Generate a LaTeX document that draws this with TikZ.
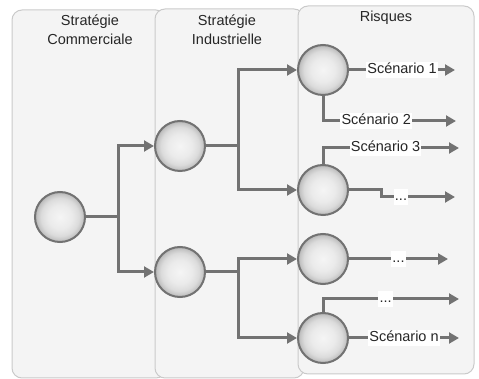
\documentclass[tikz,border=0pt]{standalone}
\usepackage{fontspec}
\setmainfont{Liberation Sans}
\usetikzlibrary{arrows.meta}

\definecolor{panelgray}{HTML}{F4F4F4}
\definecolor{edgegray}{HTML}{CACACA}
\definecolor{linegray}{HTML}{727272}

\pgfdeclareradialshading{balllight}{\pgfpoint{0bp}{0bp}}{color(0bp)=(white!96!black); color(12bp)=(white!92!black); color(19bp)=(white!86!black); color(23bp)=(white!77!black); color(25bp)=(white!70!black); color(50bp)=(white!70!black)}

\begin{document}
\begin{tikzpicture}[x = 0.6pt, y = -0.6pt, > = {Triangle[length = 6pt, width = 6.5pt]},
	panel/.style = {draw = edgegray, fill = panelgray, rounded corners = 6pt, line width = 0.6pt},
	ball/.style = {circle, draw = linegray, line width = 1.2pt, shading = balllight, minimum size = 30pt, inner sep = 0pt},
	branch/.style = {draw = linegray, line width = 1.8pt},
	title/.style = {align = center, text = black!85, font = \fontsize{8.7}{11.5}\selectfont},
	case/.style = {fill = white, inner sep = 0.7pt, text = black!85, text height = 6.5pt, text depth = 2pt, font = \fontsize{8.7}{10}\selectfont}]

\useasboundingbox (0, 0) rectangle (479, 379);

\draw [panel] (12, 10) rectangle (166, 378);
\draw [panel] (155, 9) rectangle (304, 378);
\draw [panel] (298, 6) rectangle (474, 374);

\node [title] (com) at (90, 30) {Stratégie\\Commerciale};
\node [title] (ind) at (227, 30) {Stratégie\\Industrielle};
\node [title] (ris) at (386, 18) {Risques};

\node [ball] (s0) at (60, 217) {};
\node [ball] (s1) at (180, 146) {};
\node [ball] (s2) at (180, 272) {};

\node [ball] (r1) at (323, 70) {};
\node [ball] (r2) at (323, 190) {};
\node [ball] (r3) at (323, 259) {};
\node [ball] (r4) at (323, 338) {};

\draw [branch, ->] (s0.east) -- ++(32, 0) |- (s1.west);
\draw [branch, ->] (s0.east) -- ++(32, 0) |- (s2.west);

\draw [branch, ->] (s1.east) -- ++(32, 0) |- (r1.west);
\draw [branch, ->] (s1.east) -- ++(32, 0) |- (r2.west);

\draw [branch, ->] (s2.east) -- ++(32, 0) |- (r3.west);
\draw [branch, ->] (s2.east) -- ++(32, 0) |- (r4.west);

\coordinate (e1) at (455, 70);
\coordinate (e2) at (456, 121);
\coordinate (e3) at (459, 148);
\coordinate (e4) at (455, 197);
\coordinate (e5) at (448, 259);
\coordinate (e6) at (459, 299);
\coordinate (e7) at (459, 338);

\draw [branch, ->] (r1.east) -- node [case] {Scénario 1} (e1);
\draw [branch, ->] (r1.south) |- node [case, pos = 0.7] {Scénario 2} (e2);

\draw [branch, ->] (r2.north) |- node [case, pos = 0.73] {Scénario 3} (e3);
\draw [branch, ->] (r2.east) -- ++(32, 0) -- ++(0, 7) -- node [case, pos = 0.27] {...} (e4);

\draw [branch, ->] (r3.east) -- node [case] {...} (e5);

\draw [branch, ->] (r4.north) |- node [case, pos = 0.73] {...} (e6);
\draw [branch, ->] (r4.east) -- node [case] {Scénario n} (e7);

\end{tikzpicture}
\end{document}
